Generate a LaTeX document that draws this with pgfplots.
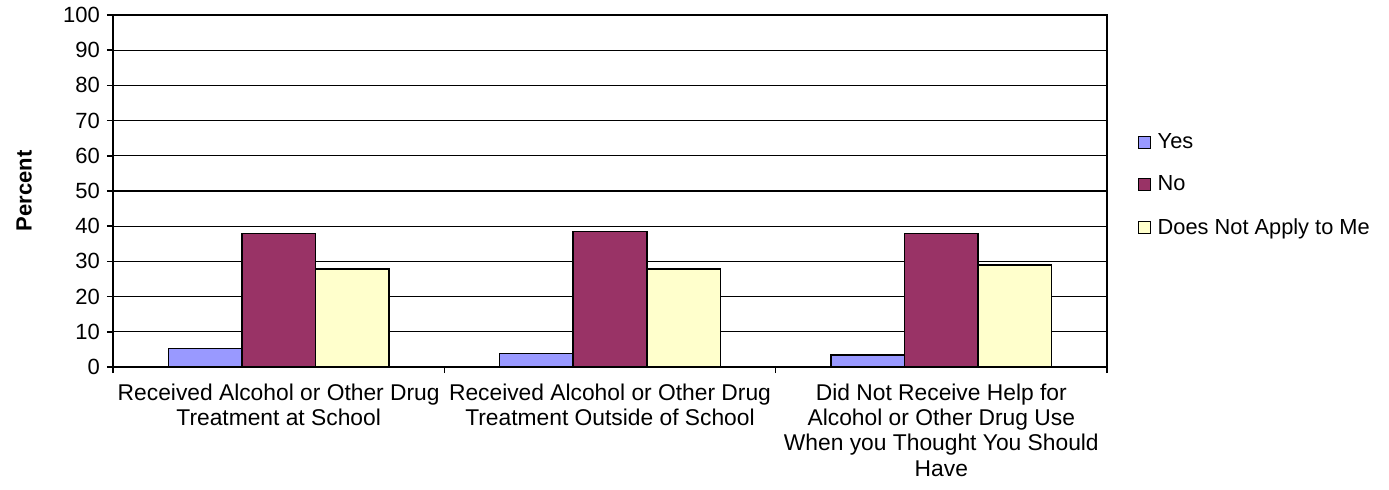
\documentclass[border=0pt]{standalone}
\usepackage{fontspec}
\setmainfont{Liberation Sans}
\usepackage{pgfplots}
\pgfplotsset{compat=1.18}
\definecolor{cyes}{HTML}{9999FF}
\definecolor{cno}{HTML}{993366}
\definecolor{cdna}{HTML}{FFFFCC}
\begin{document}
\begin{tikzpicture}
\begin{axis}[
  at={(56.5pt,61pt)}, anchor=south west,
  scale only axis, width=497pt, height=176pt,
  xmin=-0.5, xmax=2.5, ymin=0, ymax=100,
  ybar=0pt, bar width=0.222,
  xtick={-0.5,0.5,1.5,2.5},
  x tick label as interval,
  xticklabels={{Received Alcohol or Other Drug\\Treatment at School},{Received Alcohol or Other Drug\\Treatment Outside of School},{Did Not Receive Help for\\Alcohol or Other Drug Use\\When you Thought You Should\\Have}},
  xticklabel style={align=center, font=\fontsize{11.4}{12.6}\selectfont, yshift=-2pt},
  ytick={0,10,...,100},
  yticklabel style={font=\fontsize{11}{12}\selectfont},
  /pgf/number format/assume math mode=true,
  tick align=outside, major tick length=3pt,
  xtick pos=bottom, ytick pos=left,
  ymajorgrids, grid style={black, line width=0.6pt},
  axis line style={black, line width=0.75pt},
  tick style={black, line width=0.75pt},
  ylabel={\textbf{Percent}},
  ylabel style={at={(rel axis cs:-0.0895,0.5)}, anchor=center, font=\fontsize{11}{12}\selectfont},
  legend style={at={(rel axis cs:1.031,0.517)}, anchor=west, draw=none, fill=none,
    font=\fontsize{10.9}{12}\selectfont, row sep=10.3pt, inner sep=0pt,
    nodes={inner sep=1pt}},
  legend cell align=left,
  legend image code/.code={\draw[#1,draw=black,line width=0.5pt] (0pt,-3pt) rectangle (6pt,3pt); \path[draw=none,fill=none] (0pt,0pt) -- (8.5pt,0pt);},
  every axis plot/.append style={draw=black, line width=0.75pt},
]
\addplot[fill=cyes] coordinates {(0,5.2) (1,3.9) (2,3.4)};
\addplot[fill=cno] coordinates {(0,37.9) (1,38.5) (2,37.9)};
\addplot[fill=cdna] coordinates {(0,27.8) (1,27.8) (2,29.0)};
\legend{Yes,No,Does Not Apply to Me}
\end{axis}
\pgfresetboundingbox
\path (0,0) rectangle (694.5pt,244.5pt);
\end{tikzpicture}
\end{document}
